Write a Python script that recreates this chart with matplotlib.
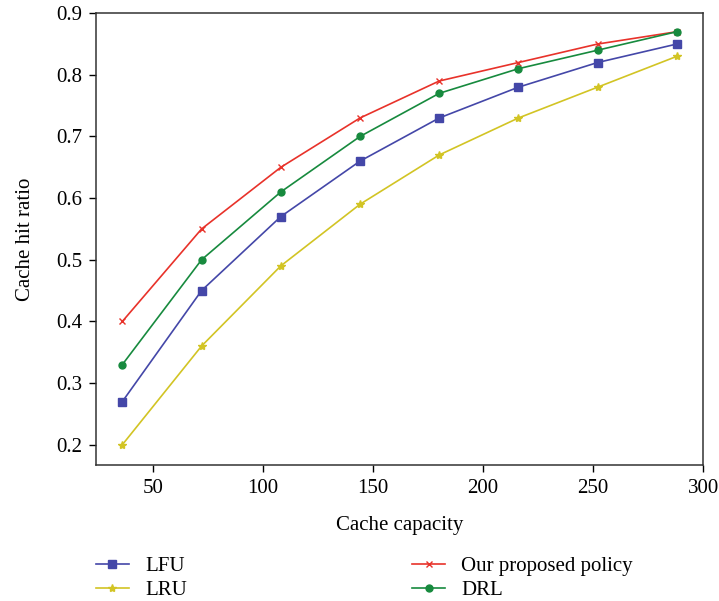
import matplotlib.pyplot as plt

plt.rcParams['font.family'] = ['Liberation Serif', 'DejaVu Serif']

capacity = [36, 72, 108, 144, 180, 216, 252, 288]
lfu = [0.27, 0.45, 0.57, 0.66, 0.73, 0.78, 0.82, 0.85]
lru = [0.20, 0.36, 0.49, 0.59, 0.67, 0.73, 0.78, 0.83]
proposed = [0.40, 0.55, 0.65, 0.73, 0.79, 0.82, 0.85, 0.87]
drl = [0.33, 0.50, 0.61, 0.70, 0.77, 0.81, 0.84, 0.87]

fig = plt.figure(figsize=(7.19, 6.01), dpi=100)
ax = fig.add_axes([0.1335, 0.2263, 0.8445, 0.7517])

l1, = ax.plot(capacity, lfu, color='#4447a8', marker='s', markersize=6, linewidth=1.2, label='LFU')
l2, = ax.plot(capacity, lru, color='#d2c424', marker='*', markersize=6, linewidth=1.2, label='LRU')
l3, = ax.plot(capacity, proposed, color='#e8322a', marker='x', markersize=5, markeredgewidth=1.0, linewidth=1.2,
              label='Our proposed policy')
l4, = ax.plot(capacity, drl, color='#178a3e', marker='o', markersize=5, linewidth=1.2, label='DRL')

ax.set_xlim(24, 300)
ax.set_ylim(0.167, 0.9)
ax.set_xticks([50, 100, 150, 200, 250, 300])
ax.set_yticks([0.2, 0.3, 0.4, 0.5, 0.6, 0.7, 0.8, 0.9])
ax.set_yticklabels(['0.2', '0.3', '0.4', '0.5', '0.6', '0.7', '0.8', '0.9'])
ax.tick_params(labelsize=15, direction='out', length=5, width=1, top=False, right=False, pad=5)
for s in ax.spines.values():
    s.set_linewidth(1.1)
    s.set_color('#333333')

ax.set_xlabel('Cache capacity', fontsize=15, labelpad=13)
ax.set_ylabel('Cache hit ratio', fontsize=15, labelpad=15)

fig.legend(handles=[l1, l2, l3, l4], loc='lower left', bbox_to_anchor=(0.133, 0.002), ncol=2,
           frameon=False, fontsize=15, handlelength=1.6, columnspacing=10.8, labelspacing=0.2,
           handletextpad=0.77, borderpad=0, borderaxespad=0)

fig.savefig('out.png', dpi=100)
